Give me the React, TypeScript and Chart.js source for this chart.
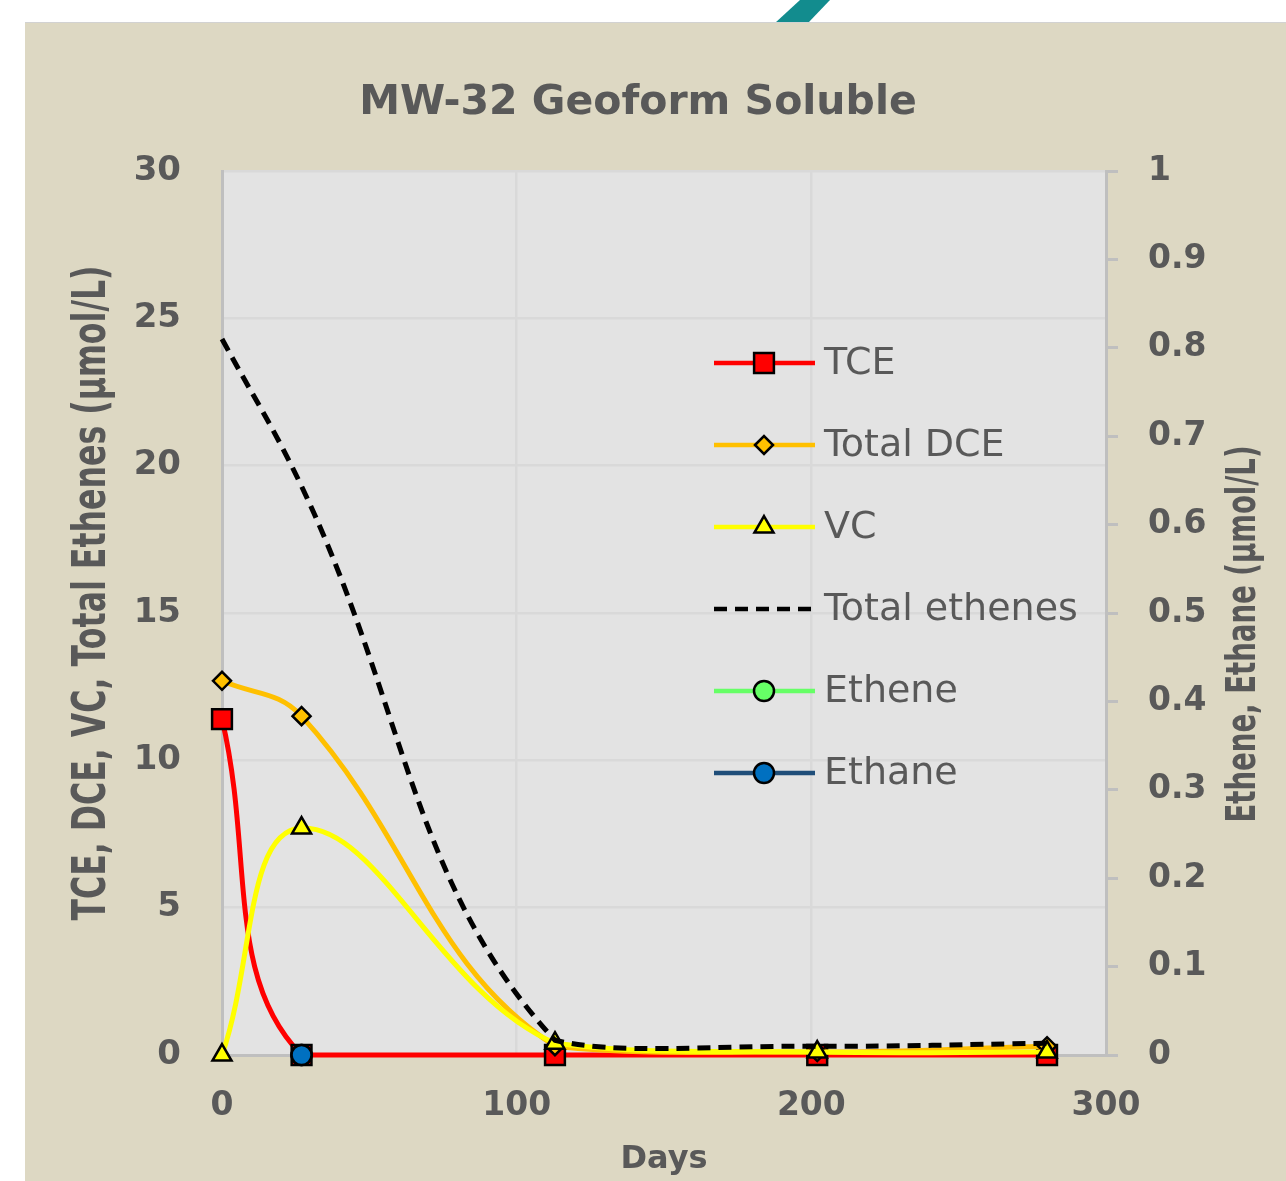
import React, { useEffect, useRef } from 'react';
import { Chart, registerables } from 'chart.js';
import { drawPoint } from 'chart.js/helpers';

Chart.register(...registerables);

// ---- data ----
const days = [0, 27, 113, 202, 280];
const tce = [11.4, 0, 0, 0, 0];
const totalDce = [12.7, 11.5, 0.3, 0.1, 0.3];
const vc = [0, 7.7, 0.4, 0.1, 0.1];
const totalEthenes = [24.3, 19.3, 0.5, 0.3, 0.4];
const ethene: (number | null)[] = [null, 0, null, null, null];
const ethane: (number | null)[] = [null, 0, null, null, null];

const xTicks = [0, 100, 200, 300];
const chartTitle = 'MW-32 Geoform Soluble';
const xTitle = 'Days';
const yLeftTitle = 'TCE, DCE, VC, Total Ethenes (µmol/L)';
const yRightTitle = 'Ethene, Ethane (µmol/L)';

const GRAY_TEXT = '#595959';
const FONT = '"DejaVu Sans", Verdana, sans-serif';

const toPoints = (vals: (number | null)[]) =>
  days.map((d, i) => ({ x: d, y: vals[i] }));

const bgPlugin = {
  id: 'plotBg',
  beforeDraw(chart: any) {
    const { ctx, chartArea } = chart;
    ctx.save();
    ctx.fillStyle = '#E3E3E3';
    ctx.fillRect(chartArea.left, chartArea.top, chartArea.right - chartArea.left, chartArea.bottom - chartArea.top);
    ctx.restore();
  },
};

function drawFitText(ctx: CanvasRenderingContext2D, text: string, cx: number, cy: number, font: string, targetLen: number, rot: number) {
  ctx.save();
  ctx.font = font;
  const w = ctx.measureText(text).width;
  ctx.translate(cx, cy);
  ctx.rotate(rot);
  ctx.scale(targetLen / w, 1);
  ctx.fillStyle = GRAY_TEXT;
  ctx.textAlign = 'center';
  ctx.textBaseline = 'middle';
  ctx.fillText(text, 0, 0);
  ctx.restore();
}

const textPlugin = {
  id: 'texts',
  afterDraw(chart: any) {
    const { ctx, chartArea } = chart;
    ctx.save();
    ctx.fillStyle = GRAY_TEXT;
    ctx.textAlign = 'center';
    ctx.textBaseline = 'middle';
    ctx.font = `bold 41px ${FONT}`;
    ctx.fillText(chartTitle, 613, 80);
    ctx.font = `bold 32px ${FONT}`;
    ctx.fillText(xTitle, (chartArea.left + chartArea.right) / 2, 1137);
    ctx.restore();
    drawFitText(ctx, yLeftTitle, 68, 570, `bold 46px ${FONT}`, 655, -Math.PI / 2);
    drawFitText(ctx, yRightTitle, 1220, 611, `bold 40px ${FONT}`, 377, -Math.PI / 2);

    // legend
    const x0 = chartArea.left + 492;
    const y0 = chartArea.top + 192;
    chart.data.datasets.forEach((ds: any, i: number) => {
      const y = y0 + i * 82;
      ctx.save();
      ctx.strokeStyle = ds.borderColor;
      ctx.lineWidth = 4.5;
      ctx.setLineDash(ds.borderDash || []);
      ctx.beginPath();
      ctx.moveTo(x0, y);
      ctx.lineTo(x0 + 101, y);
      ctx.stroke();
      ctx.setLineDash([]);
      if (ds.pointRadius > 0) {
        ctx.fillStyle = ds.pointBackgroundColor;
        ctx.strokeStyle = '#000';
        ctx.lineWidth = 2.5;
        drawPoint(ctx, { radius: ds.pointRadius, pointStyle: ds.pointStyle, rotation: 0, borderWidth: 2.5 } as any, x0 + 50, y);
      }
      ctx.fillStyle = GRAY_TEXT;
      ctx.font = `38px ${FONT}`;
      ctx.textAlign = 'left';
      ctx.textBaseline = 'middle';
      ctx.fillText(ds.label, chartArea.left + 602, y + 1);
      ctx.restore();
    });
  },
};

export default function App() {
  const ref = useRef<HTMLCanvasElement>(null);
  useEffect(() => {
    if (!ref.current) return;
    const common = {
      pointBorderColor: '#000',
      pointBorderWidth: 2.5,
      borderWidth: 5,
      tension: 0.4,
      clip: false as any,
    };
    const chart = new Chart(ref.current, {
      type: 'line',
      data: {
        datasets: [
          { ...common, label: 'TCE', data: toPoints(tce), borderColor: '#FF0000', backgroundColor: '#FF0000', pointBackgroundColor: '#FF0000', pointStyle: 'rect', pointRadius: 14, yAxisID: 'y', order: 6 },
          { ...common, label: 'Total DCE', data: toPoints(totalDce), borderColor: '#FFC000', backgroundColor: '#FFC000', pointBackgroundColor: '#FFC000', pointStyle: 'rectRot', pointRadius: 9, yAxisID: 'y', order: 5 },
          { ...common, label: 'VC', data: toPoints(vc), borderColor: '#FFFF00', backgroundColor: '#FFFF00', pointBackgroundColor: '#FFFF00', pointStyle: 'triangle', pointRadius: 11, yAxisID: 'y', order: 4 },
          { ...common, label: 'Total ethenes', data: toPoints(totalEthenes), borderColor: '#000000', backgroundColor: '#000000', pointBackgroundColor: '#000000', borderDash: [13, 8], pointRadius: 0, yAxisID: 'y', order: 3 },
          { ...common, label: 'Ethene', data: toPoints(ethene), borderColor: '#66FF66', backgroundColor: '#66FF66', pointBackgroundColor: '#66FF66', pointStyle: 'circle', pointRadius: 10, yAxisID: 'y2', order: 2 },
          { ...common, label: 'Ethane', data: toPoints(ethane), borderColor: '#1F4E79', backgroundColor: '#0070C0', pointBackgroundColor: '#0070C0', pointStyle: 'circle', pointRadius: 10, yAxisID: 'y2', order: 1 },
        ],
      },
      options: {
        animation: false,
        responsive: false,
        events: [],
        layout: { padding: { top: 148, left: 0, right: 0, bottom: 0 } },
        plugins: { legend: { display: false }, tooltip: { enabled: false }, title: { display: false } },
        scales: {
          x: {
            type: 'linear',
            min: 0,
            max: 300,
            afterFit: (s: any) => { s.height = 127; },
            afterBuildTicks: (s: any) => { s.ticks = xTicks.map((v) => ({ value: v })); },
            grid: { color: '#D9D9D9', lineWidth: 2.5, drawTicks: false },
            border: { color: '#BFBFBF', width: 3 },
            ticks: { color: GRAY_TEXT, font: { family: FONT, size: 33, weight: 'bold' }, padding: 32, autoSkip: false, maxRotation: 0 },
          },
          y: {
            type: 'linear',
            position: 'left',
            min: 0,
            max: 30,
            afterFit: (s: any) => { s.width = 197; },
            grid: { color: '#D9D9D9', lineWidth: 2.5, drawTicks: false },
            border: { color: '#BFBFBF', width: 3 },
            ticks: { stepSize: 5, color: GRAY_TEXT, font: { family: FONT, size: 34, weight: 'bold' }, padding: 41, autoSkip: false },
          },
          y2: {
            type: 'linear',
            position: 'right',
            min: 0,
            max: 1,
            afterFit: (s: any) => { s.width = 180; },
            grid: { drawOnChartArea: false, drawTicks: true, tickLength: 12, color: '#BFBFBF', lineWidth: 3 },
            border: { color: '#BFBFBF', width: 3 },
            ticks: {
              stepSize: 0.1,
              color: GRAY_TEXT,
              font: { family: FONT, size: 33, weight: 'bold' },
              padding: 30,
              autoSkip: false,
              callback: (v: any) => String(+(+v).toFixed(1)),
            },
          },
        },
      } as any,
      plugins: [bgPlugin, textPlugin],
    });
    return () => chart.destroy();
  }, []);

  return (
    <div style={{ position: 'absolute', left: 0, top: 0, width: 1286, height: 1181, background: '#FFFFFF', overflow: 'hidden' }}>
      <div
        style={{
          position: 'absolute',
          left: 770,
          top: 0,
          width: 70,
          height: 23,
          background: '#128C8E',
          clipPath: 'polygon(30px 0px, 60px 0px, 38px 23px, 5px 23px)',
        }}
      />
      <div style={{ position: 'absolute', left: 25, top: 22, width: 1261, height: 1159, background: '#DDD8C3', borderTop: '1px solid #D2D2D2' }}>
        <canvas ref={ref} width={1261} height={1159} style={{ display: 'block', width: 1261, height: 1159 }} />
      </div>
    </div>
  );
}
